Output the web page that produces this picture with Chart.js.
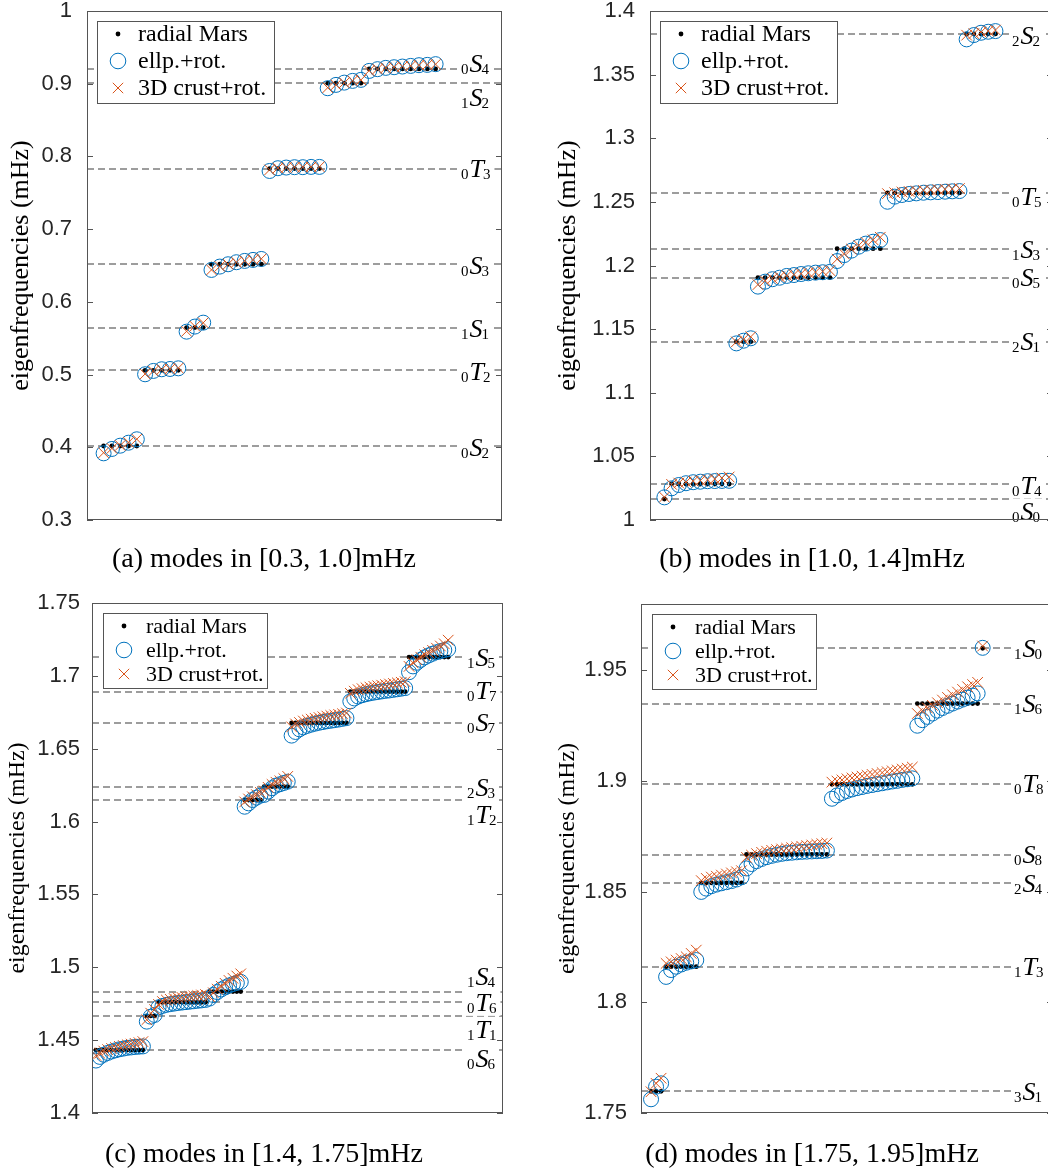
<!DOCTYPE html>
<html><head><meta charset="utf-8">
<script src="https://cdn.jsdelivr.net/npm/chart.js@4.4.1/dist/chart.umd.min.js"></script>
<style>
html,body{margin:0;padding:0;background:#fff;overflow:hidden;width:1048px;height:1170px;}
#wrap{position:relative;width:1048px;height:1170px;overflow:hidden;background:#fff;}
#wrap canvas{position:absolute;}
.cap{position:absolute;font-family:"Liberation Serif",serif;font-size:28px;color:#000;white-space:nowrap;transform:translate(-50%,-50%);line-height:1;}
</style></head><body><div id="wrap"></div>
<script>
// ---------------- DATA ----------------
const seriesNames = ["radial Mars", "ellp.+rot.", "3D crust+rot."];
const yTitle = "eigenfrequencies (mHz)";
const captions = ["(a) modes in [0.3, 1.0]mHz", "(b) modes in [1.0, 1.4]mHz", "(c) modes in [1.4, 1.75]mHz", "(d) modes in [1.75, 1.95]mHz"];

// Panel (a)
const A_modes = ["0S2", "0T2", "1S1", "0S3", "0T3", "1S2", "0S4"];
const A_radial = [0.4018, 0.5058, 0.5646, 0.6517, 0.7833, 0.9007, 0.9204];
const A_ellp = [
  [0.3917, 0.3977, 0.4022, 0.4063, 0.4110],
  [0.5004, 0.5050, 0.5073, 0.5077, 0.5086],
  [0.5590, 0.5660, 0.5714],
  [0.6439, 0.6485, 0.6517, 0.6545, 0.6563, 0.6577, 0.6590],
  [0.7800, 0.7838, 0.7847, 0.7852, 0.7852, 0.7856, 0.7856],
  [0.8938, 0.8984, 0.9015, 0.9039, 0.9053],
  [0.9176, 0.9200, 0.9218, 0.9227, 0.9236, 0.9245, 0.9255, 0.9259, 0.9269]
];
const A_crust = [
  [0.3925, 0.3985, 0.4025, 0.4068, 0.4112],
  [0.5008, 0.5048, 0.5070, 0.5078, 0.5090],
  [0.5595, 0.5665, 0.5712],
  [0.6440, 0.6488, 0.6518, 0.6545, 0.6565, 0.6578, 0.6592],
  [0.7815, 0.7840, 0.7848, 0.7852, 0.7853, 0.7856, 0.7858],
  [0.8945, 0.8985, 0.9013, 0.9040, 0.9052],
  [0.9180, 0.9202, 0.9217, 0.9228, 0.9237, 0.9246, 0.9254, 0.9260, 0.9268]
];
const A_yTicks = [0.3, 0.4, 0.5, 0.6, 0.7, 0.8, 0.9, 1.0];

// Panel (b)
const B_modes = ["0S0", "0T4", "2S1", "0S5", "1S3", "0T5", "2S2"];
const B_radial = [1.0165, 1.0283, 1.1401, 1.1905, 1.2132, 1.2570, 1.3820];
const B_ellp = [
  [1.0178],
  [1.0249, 1.0275, 1.0289, 1.0297, 1.0301, 1.0305, 1.0306, 1.0307, 1.0308],
  [1.1388, 1.1409, 1.1428],
  [1.1834, 1.1873, 1.1892, 1.1904, 1.1918, 1.1925, 1.1933, 1.1939, 1.1944, 1.1947, 1.1950],
  [1.2035, 1.2082, 1.2117, 1.2148, 1.2172, 1.2187, 1.2200],
  [1.2501, 1.2541, 1.2554, 1.2562, 1.2567, 1.2572, 1.2575, 1.2577, 1.2580, 1.2583, 1.2585],
  [1.3777, 1.3811, 1.3829, 1.3837, 1.3842]
];
const B_crust = [
  [1.0180],
  [1.0280, 1.0290, 1.0298, 1.0305, 1.0310, 1.0316, 1.0322, 1.0330, 1.0338],
  [1.1400, 1.1420, 1.1440],
  [1.1850, 1.1880, 1.1898, 1.1910, 1.1920, 1.1928, 1.1936, 1.1942, 1.1948, 1.1953, 1.1960],
  [1.2050, 1.2090, 1.2128, 1.2158, 1.2182, 1.2202, 1.2222],
  [1.2565, 1.2572, 1.2578, 1.2582, 1.2586, 1.2590, 1.2593, 1.2596, 1.2599, 1.2602, 1.2605],
  [1.3810, 1.3822, 1.3834, 1.3843, 1.3850]
];
const B_yTicks = [1.0, 1.05, 1.1, 1.15, 1.2, 1.25, 1.3, 1.35, 1.4];

// Panel (c)
const C_modes = ["0S6", "1T1", "0T6", "1S4", "1T2", "2S3", "0S7", "0T7", "1S5"];
const C_radial = [1.4432, 1.4666, 1.4760, 1.4833, 1.6148, 1.6240, 1.6677, 1.6892, 1.7129];
const C_ellp = [
  [1.4360, 1.4385, 1.4400, 1.4412, 1.4422, 1.4430, 1.4437, 1.4442, 1.4447, 1.4450, 1.4453, 1.4455, 1.4457],
  [1.4627, 1.4661, 1.4673],
  [1.4725, 1.4735, 1.4742, 1.4747, 1.4751, 1.4755, 1.4758, 1.4761, 1.4764, 1.4767, 1.4770, 1.4773, 1.4776],
  [1.4785, 1.4810, 1.4830, 1.4848, 1.4862, 1.4875, 1.4885, 1.4893, 1.4900],
  [1.6102, 1.6125, 1.6148, 1.6164, 1.6178],
  [1.6183, 1.6206, 1.6229, 1.6247, 1.6256, 1.6265, 1.6274],
  [1.6590, 1.6615, 1.6633, 1.6647, 1.6657, 1.6665, 1.6672, 1.6678, 1.6683, 1.6688, 1.6692, 1.6696, 1.6700, 1.6705, 1.6710],
  [1.6825, 1.6845, 1.6858, 1.6867, 1.6874, 1.6880, 1.6885, 1.6889, 1.6893, 1.6897, 1.6900, 1.6904, 1.6908, 1.6912, 1.6916],
  [1.7025, 1.7065, 1.7090, 1.7110, 1.7127, 1.7140, 1.7152, 1.7162, 1.7170, 1.7177, 1.7183]
];
const C_crust = [
  [1.4395, 1.4410, 1.4425, 1.4435, 1.4443, 1.4450, 1.4457, 1.4463, 1.4468, 1.4473, 1.4478, 1.4483, 1.4490],
  [1.4640, 1.4685, 1.4710],
  [1.4745, 1.4765, 1.4775, 1.4780, 1.4785, 1.4790, 1.4793, 1.4796, 1.4800, 1.4803, 1.4806, 1.4810, 1.4813],
  [1.4800, 1.4825, 1.4850, 1.4870, 1.4890, 1.4910, 1.4925, 1.4940, 1.4955],
  [1.6135, 1.6155, 1.6170, 1.6185, 1.6200],
  [1.6210, 1.6235, 1.6255, 1.6270, 1.6280, 1.6295, 1.6310],
  [1.6650, 1.6670, 1.6680, 1.6690, 1.6697, 1.6703, 1.6709, 1.6714, 1.6719, 1.6724, 1.6728, 1.6732, 1.6736, 1.6740, 1.6745],
  [1.6880, 1.6895, 1.6905, 1.6912, 1.6918, 1.6923, 1.6928, 1.6932, 1.6936, 1.6940, 1.6944, 1.6948, 1.6952, 1.6956, 1.6960],
  [1.7065, 1.7090, 1.7110, 1.7128, 1.7145, 1.7160, 1.7175, 1.7190, 1.7205, 1.7220, 1.7245]
];
const C_yTicks = [1.4, 1.45, 1.5, 1.55, 1.6, 1.65, 1.7, 1.75];

// Panel (d)
const D_modes = ["3S1", "1T3", "2S4", "0S8", "0T8", "1S6", "1S0"];
const D_radial = [1.7598, 1.8161, 1.8540, 1.8668, 1.8985, 1.9350, 1.9600];
const D_ellp = [
  [1.7562, 1.7619, 1.7634],
  [1.8115, 1.8146, 1.8161, 1.8171, 1.8179, 1.8185, 1.8191],
  [1.8499, 1.8514, 1.8525, 1.8532, 1.8538, 1.8543, 1.8548, 1.8555, 1.8565],
  [1.8605, 1.8625, 1.8638, 1.8648, 1.8656, 1.8662, 1.8667, 1.8671, 1.8674, 1.8676, 1.8678, 1.8680, 1.8681, 1.8682, 1.8683, 1.8684, 1.8686],
  [1.8920, 1.8935, 1.8946, 1.8955, 1.8962, 1.8968, 1.8973, 1.8978, 1.8982, 1.8986, 1.8990, 1.8994, 1.8998, 1.9001, 1.9005, 1.9008, 1.9012],
  [1.9250, 1.9275, 1.9290, 1.9305, 1.9318, 1.9330, 1.9340, 1.9350, 1.9359, 1.9368, 1.9377, 1.9386, 1.9396],
  [1.9602]
];
const D_crust = [
  [1.7596, 1.7634, 1.7657],
  [1.8176, 1.8183, 1.8191, 1.8198, 1.8206, 1.8221, 1.8236],
  [1.8550, 1.8560, 1.8566, 1.8570, 1.8575, 1.8580, 1.8585, 1.8590, 1.8595],
  [1.8655, 1.8665, 1.8672, 1.8678, 1.8683, 1.8687, 1.8690, 1.8693, 1.8696, 1.8699, 1.8702, 1.8705, 1.8708, 1.8711, 1.8714, 1.8717, 1.8720],
  [1.8995, 1.9000, 1.9005, 1.9010, 1.9014, 1.9018, 1.9022, 1.9026, 1.9030, 1.9034, 1.9038, 1.9042, 1.9046, 1.9050, 1.9054, 1.9058, 1.9063],
  [1.9305, 1.9318, 1.9330, 1.9342, 1.9354, 1.9366, 1.9378, 1.9390, 1.9402, 1.9414, 1.9426, 1.9436, 1.9446],
  [1.9610]
];
const D_yTicks = [1.75, 1.8, 1.85, 1.9, 1.95];

// ---------------- LAYOUT / STYLE ----------------
const AX = 100, PADV = 40;
const legendAB = {dx: 10, dy: 10, w: 177, h: 82, rows: [13, 40, 67], mx: 21, tx: 41, font: 24};
const legendCD = {dx: 11, dy: 10, w: 164, h: 75, rows: [13, 37, 61], mx: 21, tx: 43, font: 22};
const panels = [
  {modes: A_modes, radial: A_radial, ellp: A_ellp, crust: A_crust, yTicks: A_yTicks,
   L: 87, T: 11, R: 502, B: 520, ymin: 0.3, ymax: 1.0, xmin: -1, xmax: 49, tickGap: 15,
   titleX: 21, titleSize: 26, labelLeft: 41, labelDy: [1, 1, 1, 1, 0, 14, -5], legend: legendAB,
   capX: 264, capY: 558},
  {modes: B_modes, radial: B_radial, ellp: B_ellp, crust: B_crust, yTicks: B_yTicks,
   L: 650, T: 11, R: 1053, B: 520, ymin: 1.0, ymax: 1.4, xmin: -1, xmax: 55, tickGap: 15,
   titleX: 568, titleSize: 26, labelLeft: 41, labelDy: [12, 1, 0, 0, 1, 3, 1], legend: legendAB,
   capX: 812, capY: 558},
  {modes: C_modes, radial: C_radial, ellp: C_ellp, crust: C_crust, yTicks: C_yTicks,
   L: 92, T: 603, R: 503, B: 1113, ymin: 1.4, ymax: 1.75, xmin: 0, xmax: 105, tickGap: 12,
   titleX: 18, titleSize: 24, labelLeft: 36, labelDy: [8, 13, 0, -15, 14, 1, -1, -1, 0], legend: legendCD,
   capX: 264, capY: 1153},
  {modes: D_modes, radial: D_radial, ellp: D_ellp, crust: D_crust, yTicks: D_yTicks,
   L: 641, T: 604, R: 1053, B: 1113, ymin: 1.75, ymax: 1.98, xmin: -1, xmax: 81, tickGap: 14,
   titleX: 568, titleSize: 24, labelLeft: 39, labelDy: [0, 0, 1, 0, -1, 0, 0], legend: legendCD,
   capX: 812, capY: 1153}
];
const COL_E = '#0072BD', COL_C = '#D95319', AXCOL = '#262626', BOXCOL = '#555555';

function fmtTick(v) { return String(parseFloat(Number(v).toFixed(3))); }

function drawModeLabel(ctx, name, x0, yc) {
  const n = name[0], t = name[1], l = name.slice(2);
  const big = 26, small = 15;
  ctx.font = small + 'px "Liberation Serif"';
  const w0 = ctx.measureText(n).width, wl = ctx.measureText(l).width;
  ctx.font = 'italic ' + big + 'px "Liberation Serif"';
  const wt = ctx.measureText(t).width;
  const base = yc + 8.6, subBase = base + 2;
  const total = w0 + 1 + wt + wl;
  ctx.fillStyle = '#fff';
  ctx.fillRect(x0 - 3, yc - 12, total + 6, subBase - yc + 15);
  ctx.fillStyle = '#000';
  ctx.textAlign = 'left'; ctx.textBaseline = 'alphabetic';
  ctx.font = small + 'px "Liberation Serif"';
  ctx.fillText(n, x0, subBase);
  ctx.font = 'italic ' + big + 'px "Liberation Serif"';
  ctx.fillText(t, x0 + w0 + 1, base);
  ctx.font = small + 'px "Liberation Serif"';
  ctx.fillText(l, x0 + w0 + wt, subBase);
}

function drawMarker(ctx, kind, x, y) {
  ctx.save();
  if (kind === 0) { ctx.fillStyle = '#000'; ctx.beginPath(); ctx.arc(x, y, 2.4, 0, Math.PI * 2); ctx.fill(); }
  else if (kind === 1) { ctx.strokeStyle = COL_E; ctx.lineWidth = 1; ctx.beginPath(); ctx.arc(x, y, 7.8, 0, Math.PI * 2); ctx.stroke(); }
  else { ctx.strokeStyle = COL_C; ctx.lineWidth = 1; const h = 5.2; ctx.beginPath(); ctx.moveTo(x - h, y - h); ctx.lineTo(x + h, y + h); ctx.moveTo(x + h, y - h); ctx.lineTo(x - h, y + h); ctx.stroke(); }
  ctx.restore();
}

const deco = {
  id: 'deco',
  beforeDatasetsDraw(chart, args, o) {
    const {ctx, chartArea: ca} = chart; const y = chart.scales.y;
    ctx.save();
    ctx.beginPath(); ctx.rect(ca.left, ca.top, ca.right - ca.left, ca.bottom - ca.top); ctx.clip();
    ctx.strokeStyle = '#7d7d7d'; ctx.lineWidth = 1.6; ctx.setLineDash([7, 4]);
    o.p.radial.forEach(f => {
      const py = Math.round(y.getPixelForValue(f));
      ctx.beginPath(); ctx.moveTo(ca.left, py); ctx.lineTo(ca.right, py); ctx.stroke();
    });
    ctx.restore();
  },
  afterDatasetsDraw(chart, args, o) {
    const p = o.p; const {ctx, chartArea: ca} = chart; const y = chart.scales.y;
    ctx.save();
    // mode labels
    p.modes.forEach((m, k) => {
      drawModeLabel(ctx, m, ca.right - p.labelLeft, y.getPixelForValue(p.radial[k]) + p.labelDy[k]);
    });
    // box + inward ticks
    ctx.strokeStyle = BOXCOL; ctx.lineWidth = 1; ctx.setLineDash([]);
    ctx.strokeRect(ca.left + 0.5, ca.top + 0.5, ca.right - ca.left - 1, ca.bottom - ca.top - 1);
    p.yTicks.forEach(v => {
      const py = Math.round(y.getPixelForValue(v)) + 0.5;
      ctx.beginPath();
      ctx.moveTo(ca.left, py); ctx.lineTo(ca.left + 6, py);
      ctx.moveTo(ca.right - 6, py); ctx.lineTo(ca.right, py);
      ctx.stroke();
    });
    // legend
    const lg = p.legend;
    const bx = ca.left + lg.dx, by = ca.top + lg.dy;
    ctx.fillStyle = '#fff'; ctx.fillRect(bx, by, lg.w, lg.h);
    ctx.strokeStyle = BOXCOL; ctx.lineWidth = 1; ctx.strokeRect(bx + 0.5, by + 0.5, lg.w, lg.h);
    ctx.font = lg.font + 'px "Liberation Serif"'; ctx.textAlign = 'left'; ctx.textBaseline = 'middle';
    seriesNames.forEach((s, i) => {
      const ry = by + lg.rows[i];
      drawMarker(ctx, i, bx + lg.mx, ry);
      ctx.fillStyle = '#000'; ctx.fillText(s, bx + lg.tx, ry + 1);
    });
    // y title
    const cx = p.titleX - (p.L - AX);
    ctx.translate(cx, (ca.top + ca.bottom) / 2);
    ctx.rotate(-Math.PI / 2);
    ctx.fillStyle = '#000'; ctx.font = p.titleSize + 'px "Liberation Serif"';
    ctx.textAlign = 'center'; ctx.textBaseline = 'middle';
    ctx.fillText(yTitle, 0, 0);
    ctx.restore();
  }
};

const wrap = document.getElementById('wrap');
panels.forEach((p, pi) => {
  const radialPts = [], ellpPts = [], crustPts = [];
  let idx = 1;
  p.modes.forEach((m, k) => {
    for (let j = 0; j < p.ellp[k].length; j++) {
      radialPts.push({x: idx, y: p.radial[k]});
      ellpPts.push({x: idx, y: p.ellp[k][j]});
      crustPts.push({x: idx, y: p.crust[k][j]});
      idx++;
    }
  });
  const cv = document.createElement('canvas');
  const W = p.R - p.L + AX + 30, H = p.B - p.T + 2 * PADV;
  cv.width = W; cv.height = H;
  cv.style.left = (p.L - AX) + 'px'; cv.style.top = (p.T - PADV) + 'px';
  cv.style.width = W + 'px'; cv.style.height = H + 'px';
  wrap.appendChild(cv);
  new Chart(cv, {
    type: 'scatter',
    data: {datasets: [
      {label: seriesNames[0], data: radialPts, pointStyle: 'circle', pointRadius: 2.4, backgroundColor: '#000', borderColor: '#000', borderWidth: 0, order: 3},
      {label: seriesNames[1], data: ellpPts, pointStyle: 'circle', pointRadius: 7.5, backgroundColor: 'rgba(0,0,0,0)', borderColor: COL_E, borderWidth: 1, order: 2},
      {label: seriesNames[2], data: crustPts, pointStyle: 'crossRot', pointRadius: 7.5, backgroundColor: COL_C, borderColor: COL_C, borderWidth: 1, order: 1}
    ]},
    options: {
      responsive: false, animation: false, devicePixelRatio: 1,
      layout: {padding: {left: 0, top: PADV, right: 30, bottom: PADV}},
      plugins: {legend: {display: false}, tooltip: {enabled: false}, deco: {p: p}},
      scales: {
        x: {type: 'linear', display: false, min: p.xmin, max: p.xmax},
        y: {type: 'linear', min: p.ymin, max: p.ymax,
            afterBuildTicks: s => { s.ticks = p.yTicks.map(v => ({value: v})); },
            afterFit: s => { s.width = AX; },
            grid: {display: false, drawTicks: false}, border: {display: false},
            ticks: {font: {family: 'Liberation Sans', size: 22}, color: AXCOL, padding: p.tickGap, callback: v => fmtTick(v)}}
      }
    },
    plugins: [deco]
  });
  const cap = document.createElement('div');
  cap.className = 'cap'; cap.textContent = captions[pi];
  cap.style.left = p.capX + 'px'; cap.style.top = p.capY + 'px';
  wrap.appendChild(cap);
});
</script></body></html>
